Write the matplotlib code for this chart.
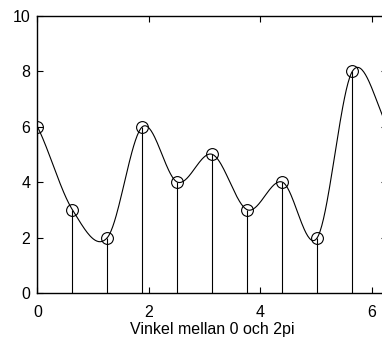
import numpy as np
import matplotlib
matplotlib.use("Agg")
import matplotlib.pyplot as plt

plt.rcParams['font.family'] = ['Liberation Sans', 'DejaVu Sans']

# sampelvärden (10 punkter på 0..2pi)
values = [6, 3, 2, 6, 4, 5, 3, 4, 2, 8]
n_samples = len(values)
x_samples = 2 * np.pi * np.arange(n_samples) / n_samples

xticks = [0, 2, 4, 6]
yticks = [0, 2, 4, 6, 8, 10]
xlabel = "Vinkel mellan 0 och 2pi"

# periodisk kubisk Hermite-kurva (Catmull-Rom) genom sampelpunkterna
def smooth_curve(y, per_seg=40):
    y = np.asarray(y, dtype=float)
    n = len(y)
    h = 2 * np.pi / n
    slopes = (np.roll(y, -1) - np.roll(y, 1)) / (2 * h)
    s = np.linspace(0, 1, per_seg, endpoint=False)
    h00 = 2 * s**3 - 3 * s**2 + 1
    h10 = s**3 - 2 * s**2 + s
    h01 = -2 * s**3 + 3 * s**2
    h11 = s**3 - s**2
    xc, yc = [], []
    for i in range(n):
        j = (i + 1) % n
        xc.append(i * h + s * h)
        yc.append(h00 * y[i] + h10 * h * slopes[i] + h01 * y[j] + h11 * h * slopes[j])
    xc.append([n * h])
    yc.append([y[0]])
    return np.concatenate(xc), np.concatenate(yc)

x_curve, curve = smooth_curve(values)

fig = plt.figure(figsize=(3.82, 3.39), dpi=100)
ax = fig.add_axes([0.098, 0.136, 0.916, 0.817])

ax.plot(x_curve, curve, color='black', lw=0.8)
ax.vlines(x_samples, 0, values, color='black', lw=0.8)
ax.plot(x_samples, values, 'o', mfc='none', mec='black', ms=8.5, mew=0.8)

ax.set_xlim(0, 2 * np.pi)
ax.set_ylim(0, 10)
ax.set_xticks(xticks)
ax.set_yticks(yticks)
ax.tick_params(direction='in', length=4, width=0.8, labelsize=11.5,
               top=True, right=True)
ax.tick_params(axis='x', pad=8.5)
ax.tick_params(axis='y', pad=5)
for s in ax.spines.values():
    s.set_linewidth(1.0)
ax.set_xlabel(xlabel, fontsize=11.5, labelpad=2)

fig.savefig("out.png", dpi=100)
